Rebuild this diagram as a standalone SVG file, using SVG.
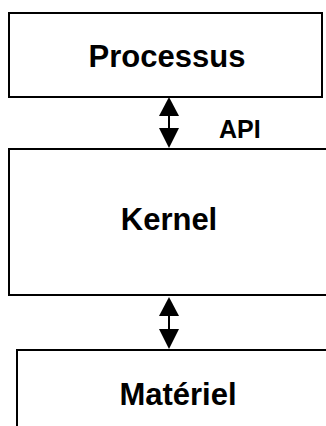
<svg xmlns="http://www.w3.org/2000/svg" width="326" height="426" viewBox="0 0 326 426">
<style>
.box{fill:#fff;stroke:#000;stroke-width:2}
.lbl{font-family:"Liberation Sans",Arial,sans-serif;font-weight:bold;fill:#000;text-anchor:middle}
.big{font-size:31px}
.api{font-size:25px;text-anchor:start}
.conn{stroke:#000;stroke-width:2;fill:none}
.head{fill:#000}
</style>
<rect width="326" height="426" fill="#fff"/>
<g id="processus">
<rect class="box" x="9" y="13" width="313" height="84"/>
<text class="lbl big" x="167" y="67">Processus</text>
</g>
<g id="kernel">
<rect class="box" x="9" y="149" width="330" height="146"/>
<text class="lbl big" x="169" y="230">Kernel</text>
</g>
<g id="materiel">
<rect class="box" x="17" y="350" width="330" height="100"/>
<text class="lbl big" x="178" y="405">Matériel</text>
</g>
<g id="connectors">
<line class="conn" x1="169" y1="110" x2="169" y2="135"/>
<polygon class="head" points="169,97 159,116 179,116"/>
<polygon class="head" points="169,148 159,128 179,128"/>
<text class="lbl api" x="219" y="138">API</text>
<line class="conn" x1="169" y1="310" x2="169" y2="337"/>
<polygon class="head" points="169,297 159,316 179,316"/>
<polygon class="head" points="169,349 159,329 179,329"/>
</g>
</svg>
